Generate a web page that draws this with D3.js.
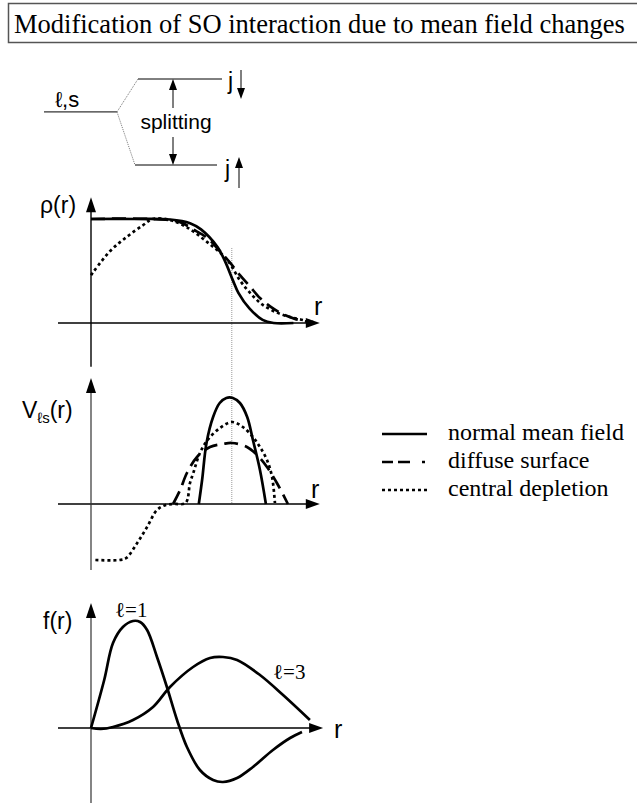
<!DOCTYPE html>
<meta charset="utf-8">
<style>
  body { margin: 0; background: #fff; }
  svg { display: block; }
  text { fill: #000; }
  text.sans { font-family: "Liberation Sans", Arial, sans-serif; }
  text.serif { font-family: "Liberation Serif", "Times New Roman", serif; }
  path.curve { fill: none; stroke: #000; stroke-width: 2.7; }
  path.curve.dashed { stroke-dasharray: 14, 7; }
  path.curve.dotted { stroke-dasharray: 3, 3; }
  line.axis { stroke: #000; stroke-width: 1.4; }
  line.axis.light { stroke: #333; stroke-width: 1.2; }
  line.level { stroke: #000; stroke-width: 1; }
  line.link { stroke: #777; stroke-width: 1; stroke-dasharray: 1, 1; }
  line.guide { stroke: #999; stroke-width: 1; stroke-dasharray: 1, 1; }
  path.head { fill: #000; stroke: none; }
</style>
<body>
<script src="https://d3js.org/d3.v7.min.js"></script>
<script>

    var width = 637, height = 803;

    // level scheme: energies of the unsplit level and the two j partners
    var levelNames = ["ℓ,s", "j↓", "j↑"];
    var levelE = [0, 0.62, -1];

    // density rho(r), [r, rho]
    var rhoNormal = [[0, 1], [2, 1], [3.6, 0.995], [4.5, 0.96], [5.0, 0.9], [5.75, 0.73], [6.1, 0.59],
                     [6.45, 0.41], [6.7, 0.29], [7.2, 0.14], [7.8, 0.03], [8.3, 0], [9.2, 0]];
    var rhoDiffuse = [[0, 1], [2.7, 1], [4.05, 0.97], [4.64, 0.9], [5.27, 0.82], [5.86, 0.69], [6.32, 0.58],
                      [6.77, 0.46], [7.23, 0.35], [7.68, 0.24], [8.14, 0.16], [8.68, 0.09], [9.27, 0.04], [10.1, 0]];
    var rhoDepleted = [[0, 0.46], [0.86, 0.69], [1.64, 0.83], [2.36, 0.94], [2.8, 1.0], [3.6, 0.99], [4.36, 0.92],
                       [5.27, 0.78], [6.18, 0.61], [6.77, 0.41], [7.23, 0.29], [7.77, 0.18], [8.45, 0.1],
                       [9.18, 0.05], [10.1, 0.01]];

    // spin-orbit potential V_ls(r), [r, V]
    var vNormal = [[4.9, 0], [5.05, 0.24], [5.25, 0.61], [5.55, 0.87], [5.85, 1.01], [6.15, 1.06], [6.45, 1.06],
                   [6.77, 1.01], [7.1, 0.87], [7.36, 0.64], [7.68, 0.34], [7.95, 0]];
    var vDiffuse = [[3.73, 0], [4.05, 0.14], [4.36, 0.31], [4.82, 0.47], [5.41, 0.57], [6.0, 0.6], [6.41, 0.61],
                    [7.09, 0.57], [7.55, 0.49], [8.0, 0.37], [8.45, 0.21], [8.95, 0]];
    var vDepleted = [[0.2, -0.56], [1.3, -0.56], [1.6, -0.54], [2.1, -0.39], [2.55, -0.23], [3.0, -0.06],
                     [3.4, -0.01], [3.8, 0], [4.3, 0.01], [4.5, 0.21], [4.65, 0.31], [4.95, 0.51], [5.3, 0.64],
                     [5.86, 0.76], [6.41, 0.82], [6.9, 0.77], [7.36, 0.67], [7.68, 0.57], [8.0, 0.44],
                     [8.23, 0.27], [8.36, 0.01]];

    // radial wave functions f(r), [r, f]
    var fL1 = [[0, 0], [0.6, 0.48], [1.0, 0.85], [1.45, 1.01], [1.91, 1.07], [2.23, 1.06], [2.55, 0.98],
               [3.0, 0.71], [3.45, 0.41], [3.91, 0.08], [4.36, -0.19], [4.95, -0.42], [5.55, -0.52],
               [6.0, -0.54], [6.64, -0.5], [7.36, -0.39], [8.27, -0.22], [9.05, -0.1], [9.59, -0.04]];
    var fL3 = [[0, 0], [0.45, -0.01], [1.0, 0.01], [1.91, 0.08], [2.82, 0.21], [3.59, 0.41], [4.64, 0.61],
               [5.41, 0.7], [6.0, 0.71], [6.64, 0.68], [7.68, 0.53], [8.73, 0.33], [9.95, 0.08]];

    var seriesNames = ["normal mean field", "diffuse surface", "central depletion"];
    var seriesStyle = ["solid", "dashed", "dotted"];

    var svg = d3.select("body").append("svg")
            .attr("width", width)
            .attr("height", height);

    // title box
    svg.append("rect")
            .attr("x", 8.5).attr("y", 3.5)
            .attr("width", 640).attr("height", 39)
            .attr("fill", "none")
            .attr("stroke", "#555")
            .attr("stroke-width", 1.5);

    svg.append("text")
            .attr("class", "serif")
            .attr("x", 14).attr("y", 33)
            .style("font-size", "26.5px")
            .text("Modification of SO interaction due to mean field changes");

    var line = d3.line().curve(d3.curveCatmullRom.alpha(0.5));

    function head(g, x, y, dir, len, half) {
        // filled triangle, tip at (x, y)
        var pts;
        if (dir === "up") pts = [[x, y], [x - half, y + len], [x + half, y + len]];
        else if (dir === "down") pts = [[x, y], [x - half, y - len], [x + half, y - len]];
        else pts = [[x, y], [x - len, y - half], [x - len, y + half]];
        g.append("path").attr("class", "head")
            .attr("d", d3.line()(pts) + "Z");
    }

    // ---- level scheme ----
    var yLev = d3.scaleLinear().domain([-1, 0.62]).range([165, 79]);
    var lev = svg.append("g").attr("class", "levels");

    lev.append("line").attr("class", "level")
            .attr("x1", 44).attr("x2", 117)
            .attr("y1", yLev(levelE[0])).attr("y2", yLev(levelE[0]));
    lev.append("line").attr("class", "level")
            .attr("x1", 138).attr("x2", 222)
            .attr("y1", yLev(levelE[1])).attr("y2", yLev(levelE[1]));
    lev.append("line").attr("class", "level")
            .attr("x1", 135).attr("x2", 217)
            .attr("y1", yLev(levelE[2])).attr("y2", yLev(levelE[2]));
    lev.append("line").attr("class", "link")
            .attr("x1", 117).attr("y1", yLev(levelE[0]))
            .attr("x2", 138).attr("y2", yLev(levelE[1]));
    lev.append("line").attr("class", "link")
            .attr("x1", 117).attr("y1", yLev(levelE[0]))
            .attr("x2", 135).attr("y2", yLev(levelE[2]));

    lev.append("text").attr("class", "sans")
            .attr("x", 55).attr("y", 107)
            .style("font-size", "22px")
            .text(levelNames[0]);

    // splitting arrows
    lev.append("line").attr("class", "level")
            .attr("x1", 173).attr("x2", 173)
            .attr("y1", yLev(levelE[1]) + 8).attr("y2", 108);
    head(lev, 173, yLev(levelE[1]), "up", 11, 4);
    lev.append("line").attr("class", "level")
            .attr("x1", 173).attr("x2", 173)
            .attr("y1", 137).attr("y2", yLev(levelE[2]) - 8);
    head(lev, 173, yLev(levelE[2]), "down", 11, 4);

    lev.append("text").attr("class", "sans")
            .attr("x", 176).attr("y", 129)
            .attr("text-anchor", "middle")
            .style("font-size", "21px")
            .text("splitting");

    // j labels with spin arrows
    lev.append("text").attr("class", "sans")
            .attr("x", 228).attr("y", 89)
            .style("font-size", "23px")
            .text(levelNames[1].charAt(0));
    lev.append("line").attr("class", "level")
            .attr("x1", 241).attr("x2", 241)
            .attr("y1", 70).attr("y2", 90);
    head(lev, 241, 99, "down", 11, 4);

    lev.append("text").attr("class", "sans")
            .attr("x", 225).attr("y", 177)
            .style("font-size", "23px")
            .text(levelNames[2].charAt(0));
    lev.append("line").attr("class", "level")
            .attr("x1", 239).attr("x2", 239)
            .attr("y1", 167).attr("y2", 188);
    head(lev, 239, 157, "up", 11, 4);

    // ---- panels ----
    var x = d3.scaleLinear().domain([0, 10]).range([91, 311]);

    var panels = [
        { y: d3.scaleLinear().domain([0, 1]).range([323, 219]), top: 1.21, bottom: -0.42, arrowEnd: 10.4,
          series: [rhoNormal, rhoDiffuse, rhoDepleted], styles: seriesStyle, light: false,
          label: "rho", lx: 40, ly: 213, rx: 314, ry: 315 },
        { y: d3.scaleLinear().domain([0, 1]).range([504, 404]), top: 1.26, bottom: -0.66, arrowEnd: 10.4,
          series: [vNormal, vDiffuse, vDepleted], styles: seriesStyle, light: true,
          label: "V", lx: 22, ly: 418, rx: 311, ry: 498 },
        { y: d3.scaleLinear().domain([0, 1]).range([728, 628]), top: 1.25, bottom: -0.75, arrowEnd: 10.55,
          series: [fL1, fL3], styles: ["solid", "solid"], light: true,
          label: "f", lx: 43, ly: 629, rx: 334, ry: 738 }
    ];

    // dotted guide at the nuclear radius through the first two panels
    svg.append("line").attr("class", "guide")
            .attr("x1", x(6.4)).attr("x2", x(6.4))
            .attr("y1", 248).attr("y2", 504);

    panels.forEach(function(p) {
        var g = svg.append("g").attr("class", "panel");

        g.append("line").attr("class", "axis")
                .attr("x1", 58).attr("x2", x(p.arrowEnd) - 10)
                .attr("y1", p.y(0)).attr("y2", p.y(0));
        head(g, x(p.arrowEnd), p.y(0), "right", 14, 5);

        g.append("line").attr("class", p.light ? "axis light" : "axis")
                .attr("x1", x(0)).attr("x2", x(0))
                .attr("y1", p.y(p.top) + 10).attr("y2", p.y(p.bottom));
        head(g, x(0), p.y(p.top), "up", 15, 5);

        g.selectAll("path.curve")
                .data(p.series)
            .enter().append("path")
                .attr("class", function(d, i) { return "curve " + p.styles[i]; })
                .attr("d", function(d) {
                    return line(d.map(function(v) { return [x(v[0]), p.y(v[1])]; }));
                });

        g.append("text").attr("class", "sans")
                .attr("x", p.rx).attr("y", p.ry)
                .style("font-size", "25px")
                .text("r");

        var t = g.append("text").attr("class", "sans")
                .attr("x", p.lx).attr("y", p.ly)
                .style("font-size", "23px");
        if (p.label === "rho") t.text("ρ(r)");
        else if (p.label === "f") t.text("f(r)");
        else {
            t.append("tspan").text("V");
            t.append("tspan").attr("dy", 5).style("font-size", "15px").text("ℓs");
            t.append("tspan").attr("dy", -5).text("(r)");
        }
    });

    // wave function labels
    svg.append("text").attr("class", "serif")
            .attr("x", 115).attr("y", 617)
            .style("font-size", "21px")
            .text("ℓ=1");
    svg.append("text").attr("class", "serif")
            .attr("x", 273).attr("y", 679)
            .style("font-size", "21px")
            .text("ℓ=3");

    // ---- legend ----
    var legend = svg.append("g").attr("class", "legend")
            .selectAll("g")
            .data(seriesNames)
        .enter().append("g")
            .attr("transform", function(d, i) { return "translate(0," + (440 + i * 28) + ")"; });

    legend.append("path")
            .attr("class", function(d, i) { return "curve " + seriesStyle[i]; })
            .style("stroke-dasharray", function(d, i) {
                return i === 1 ? "11,5,12,12,3,30" : (i === 2 ? "3,3" : null);
            })
            .attr("d", "M382,-6H427");

    legend.append("text").attr("class", "serif")
            .attr("x", 448).attr("y", 0)
            .style("font-size", "24px")
            .text(function(d) { return d; });

</script>
